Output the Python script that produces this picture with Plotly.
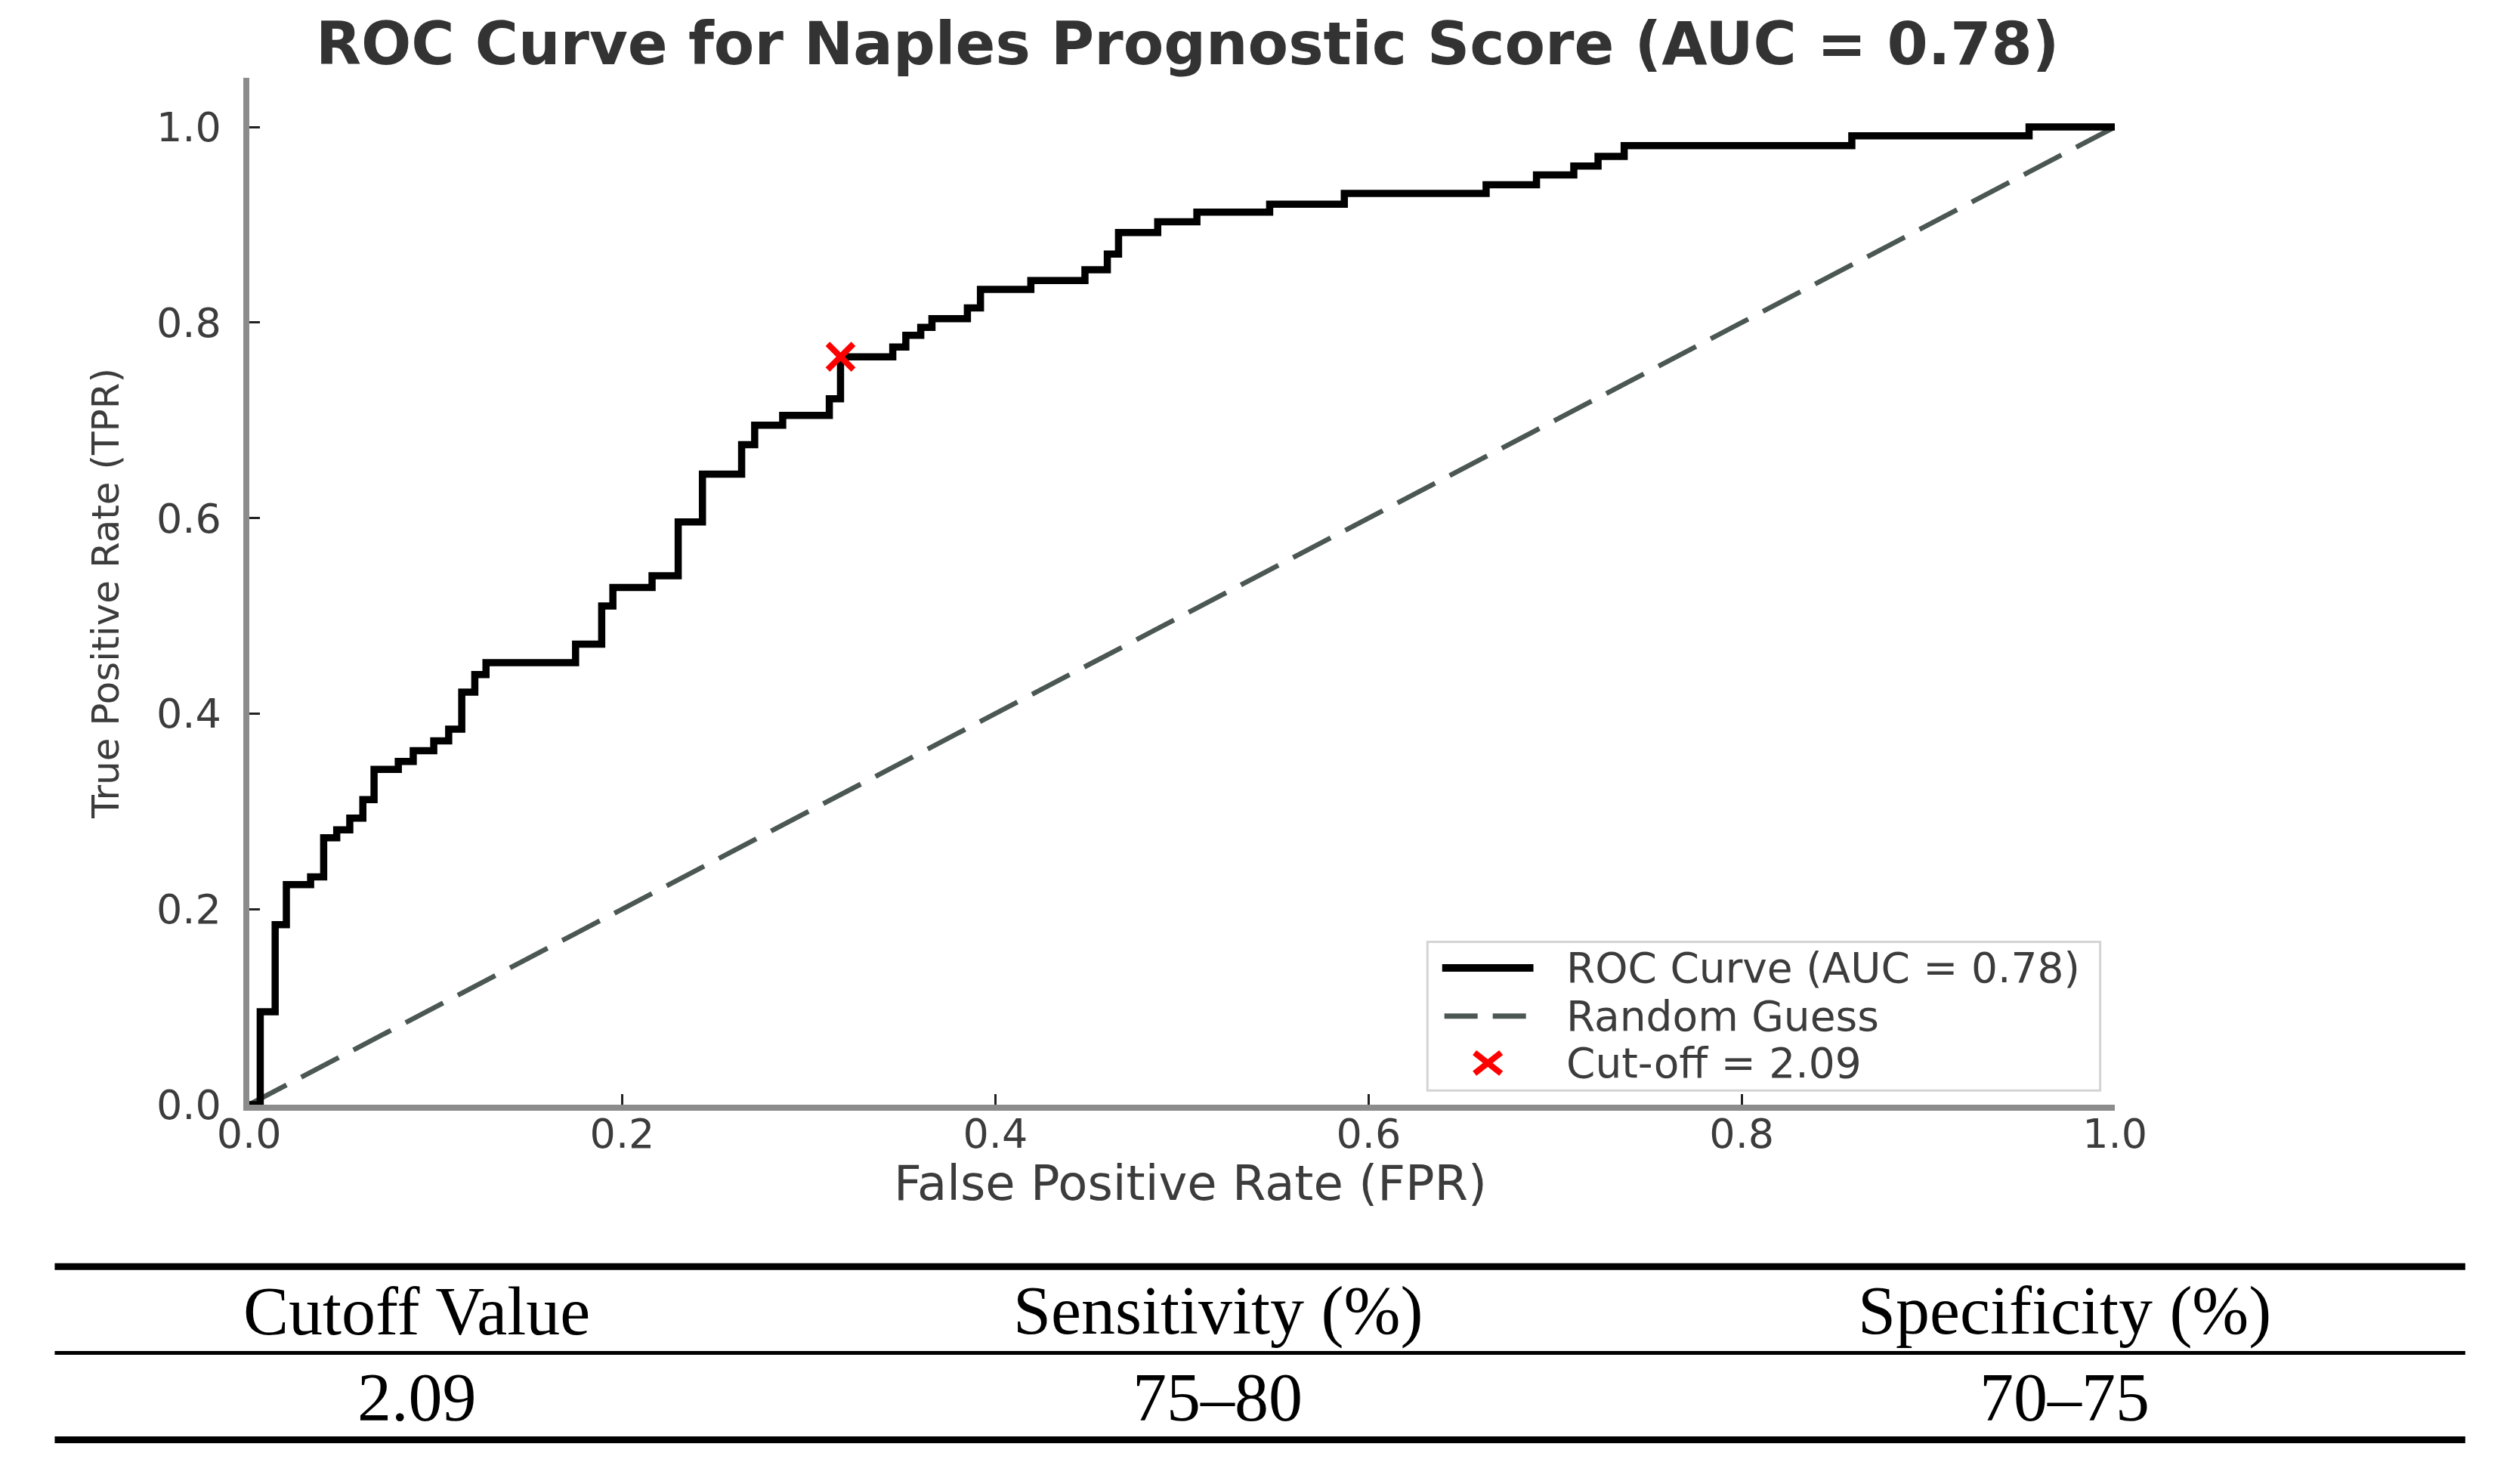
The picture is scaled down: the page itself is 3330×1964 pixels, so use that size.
import plotly.graph_objects as go

# ---------------- data ----------------
fpr = [0.000, 0.006, 0.014, 0.020, 0.033, 0.040, 0.047, 0.054, 0.061, 0.067,
       0.080, 0.088, 0.099, 0.107, 0.114, 0.121, 0.127, 0.175, 0.189, 0.195,
       0.216, 0.230, 0.243, 0.264, 0.271, 0.286, 0.311, 0.317, 0.345, 0.352,
       0.360, 0.366, 0.385, 0.392, 0.419, 0.448, 0.460, 0.466, 0.487, 0.508,
       0.547, 0.587, 0.663, 0.690, 0.710, 0.723, 0.737, 0.859, 0.954, 1.000]
tpr = [0.000, 0.095, 0.184, 0.225, 0.233, 0.273, 0.281, 0.293, 0.312, 0.343,
       0.351, 0.362, 0.372, 0.384, 0.422, 0.440, 0.452, 0.471, 0.510, 0.529,
       0.541, 0.596, 0.645, 0.675, 0.695, 0.705, 0.722, 0.765, 0.775, 0.787,
       0.795, 0.804, 0.815, 0.834, 0.843, 0.854, 0.870, 0.892, 0.903, 0.913,
       0.921, 0.932, 0.941, 0.951, 0.960, 0.970, 0.981, 0.991, 1.000, 1.000]

guess_x = [0.0, 1.0]
guess_y = [0.0, 1.0]

cutoff_fpr = [0.317]
cutoff_tpr = [0.765]

tick_vals = [0.0, 0.2, 0.4, 0.6, 0.8, 1.0]
tick_text = ["0.0", "0.2", "0.4", "0.6", "0.8", "1.0"]

title_text = "ROC Curve for Naples Prognostic Score (AUC = 0.78)"
x_title = "False Positive Rate (FPR)"
y_title = "True Positive Rate (TPR)"
legend_labels = ["ROC Curve (AUC = 0.78)", "Random Guess", "Cut-off = 2.09"]

table_header = ["Cutoff Value", "Sensitivity (%)", "Specificity (%)"]
table_row = ["2.09", "75\u201380", "70\u201375"]

# ---------------- figure ----------------
W, H = 3330, 1964
def px(x):
    return x / W
def py(y):
    return 1 - y / H

ROC_COLOR = "#000000"
DIAG_COLOR = "#4b5753"
CUT_COLOR = "#ff0000"
TXT = "#3c3c3c"

fig = go.Figure()
fig.add_trace(go.Scatter(x=guess_x, y=guess_y, mode="lines",
                         line=dict(color=DIAG_COLOR, width=6.5, dash="56px,22px"),
                         showlegend=False, hoverinfo="skip"))
fig.add_trace(go.Scatter(x=fpr, y=tpr, mode="lines",
                         line=dict(color=ROC_COLOR, width=9.5, shape="hv"),
                         showlegend=False))
fig.add_trace(go.Scatter(x=cutoff_fpr, y=cutoff_tpr, mode="markers",
                         marker=dict(symbol="x-thin", size=34,
                                     line=dict(color=CUT_COLOR, width=8),
                                     color=CUT_COLOR),
                         showlegend=False, cliponaxis=False))

axis_common = dict(
    showgrid=False, zeroline=False, showline=True, linecolor="#8c8c8c",
    linewidth=8, ticks="inside", ticklen=14, tickwidth=3, tickcolor="#222222",
    tickvals=tick_vals, ticktext=tick_text,
    tickfont=dict(family="DejaVu Sans", size=54, color=TXT),
)

fig.update_layout(
    width=W, height=H,
    margin=dict(l=0, r=0, t=0, b=0),
    paper_bgcolor="white", plot_bgcolor="white",
    showlegend=False,
    xaxis=dict(range=[0, 1], domain=[px(286), px(2821)], ticklabelstandoff=-16,
               **axis_common),
    yaxis=dict(range=[0, 1.05], domain=[py(1478), py(97)], ticklabelstandoff=18,
               **axis_common),
)

shapes = []
annotations = []

# title and axis titles
annotations.append(dict(text=title_text, x=px(1561), y=py(51), xref="paper", yref="paper",
                        xanchor="center", yanchor="middle", showarrow=False,
                        font=dict(family="DejaVu Sans", size=78, color="#333333",
                                  weight="bold")))
annotations.append(dict(text=x_title, x=px(1565), y=py(1584), xref="paper", yref="paper",
                        xanchor="center", yanchor="middle", showarrow=False,
                        font=dict(family="DejaVu Sans", size=64, color=TXT)))
annotations.append(dict(text=y_title, x=px(92), y=py(790), xref="paper", yref="paper",
                        xanchor="center", yanchor="middle", showarrow=False, textangle=-90,
                        font=dict(family="DejaVu Sans", size=50, color=TXT)))

# legend box
shapes.append(dict(type="rect", xref="paper", yref="paper",
                   x0=px(1887), x1=px(2801), y0=py(1459), y1=py(1259),
                   line=dict(color="#d4d4d4", width=3), fillcolor="rgba(255,255,255,0.85)"))
rows_y = [1294, 1359, 1422]
shapes.append(dict(type="line", xref="paper", yref="paper",
                   x0=px(1907), x1=px(2031), y0=py(rows_y[0]), y1=py(rows_y[0]),
                   line=dict(color=ROC_COLOR, width=10)))
shapes.append(dict(type="line", xref="paper", yref="paper",
                   x0=px(1910), x1=px(2031), y0=py(rows_y[1]), y1=py(rows_y[1]),
                   line=dict(color=DIAG_COLOR, width=7, dash="44px,20px")))
cx, cy, hx, hy = 1969, rows_y[2], 18, 14
shapes.append(dict(type="line", xref="paper", yref="paper",
                   x0=px(cx - hx), x1=px(cx + hx), y0=py(cy - hy), y1=py(cy + hy),
                   line=dict(color=CUT_COLOR, width=8)))
shapes.append(dict(type="line", xref="paper", yref="paper",
                   x0=px(cx - hx), x1=px(cx + hx), y0=py(cy + hy), y1=py(cy - hy),
                   line=dict(color=CUT_COLOR, width=8)))
for lab, ry in zip(legend_labels, rows_y):
    annotations.append(dict(text=lab, x=px(2074), y=py(ry), xref="paper", yref="paper",
                            xanchor="left", yanchor="middle", showarrow=False,
                            font=dict(family="DejaVu Sans", size=55, color=TXT)))

# table
for yy, wdt in [(1696, 9), (1812, 5), (1929, 9)]:
    shapes.append(dict(type="line", xref="paper", yref="paper",
                       x0=px(22), x1=px(3297), y0=py(yy), y1=py(yy),
                       line=dict(color="black", width=wdt)))
col_x = [514, 1602, 2753]
for txt, cxp in zip(table_header, col_x):
    annotations.append(dict(text=txt, x=px(cxp), y=py(1756), xref="paper", yref="paper",
                            xanchor="center", yanchor="middle", showarrow=False,
                            font=dict(family="Liberation Serif", size=90, color="black")))
for txt, cxp in zip(table_row, col_x):
    annotations.append(dict(text=txt, x=px(cxp), y=py(1872), xref="paper", yref="paper",
                            xanchor="center", yanchor="middle", showarrow=False,
                            font=dict(family="Liberation Serif", size=90, color="black")))

fig.update_layout(shapes=shapes, annotations=annotations)
fig.write_html("out.html")
